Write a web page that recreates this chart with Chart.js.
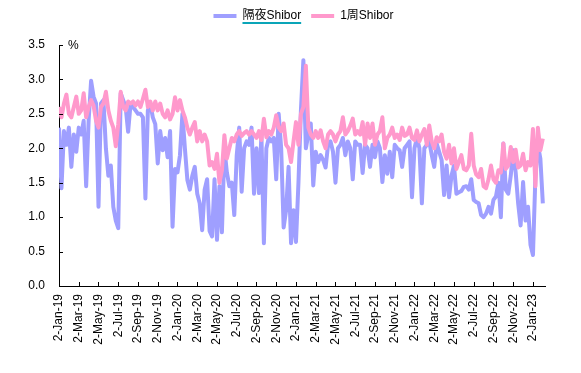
<!DOCTYPE html>
<html><head><meta charset="utf-8">
<script src="https://cdn.jsdelivr.net/npm/chart.js@4.4.1/dist/chart.umd.min.js"></script>
<style>html,body{margin:0;padding:0;background:#fff;}#wrap{width:581px;height:373px;}</style>
</head><body><div id="wrap"><canvas id="c" width="581" height="373"></canvas></div>
<script>
const seriesNames = ['隔夜Shibor', '1周Shibor'];
const tickLabels = ['2-Jan-19','2-Mar-19','2-May-19','2-Jul-19','2-Sep-19','2-Nov-19',
  '2-Jan-20','2-Mar-20','2-May-20','2-Jul-20','2-Sep-20','2-Nov-20',
  '2-Jan-21','2-Mar-21','2-May-21','2-Jul-21','2-Sep-21','2-Nov-21',
  '2-Jan-22','2-Mar-22','2-May-22','2-Jul-22','2-Sep-22','2-Nov-22','2-Jan-23'];
// tick positions in months since 2-Jan-19
const tickMonths = [0,2,4,6,8,10,12,14,16,18,20,22,24,26,28,30,32,34,36,38,40,42,44,46,48];
// samples are taken every quarter month starting 2-Jan-19
const sampleStepMonths = 0.25;
const overnight = [
  2.3,1.42,2.25,2.05,2.3,1.73,2.2,1.95,2.3,2.2,
  2.4,1.45,2.4,2.98,2.75,2.65,1.15,2.65,2.7,2.0,
  1.6,1.75,1.15,0.95,0.84,2.8,2.7,2.6,2.24,2.65,
  2.6,2.55,2.5,2.5,2.45,1.27,2.55,2.65,2.45,2.35,
  1.78,2.25,1.97,2.15,1.87,2.25,0.86,1.7,1.65,1.9,
  2.5,2.0,1.54,1.4,1.6,1.73,1.34,1.2,0.81,1.4,
  1.55,0.8,0.72,1.55,0.67,1.45,0.78,2.0,1.65,1.45,
  1.5,1.03,1.9,2.3,1.37,2.0,2.1,2.05,2.3,1.34,
  2.0,1.35,2.2,0.62,2.0,2.15,2.1,2.15,1.55,2.5,
  2.0,0.85,1.1,1.73,0.62,1.1,0.64,1.5,2.55,3.28,
  2.0,2.2,2.36,1.46,1.95,1.8,1.9,1.83,1.72,2.05,
  2.1,1.95,1.5,2.0,2.05,2.15,1.9,2.1,2.0,1.55,
  2.1,2.05,2.05,1.64,2.05,2.0,1.73,2.05,1.87,2.1,
  2.0,1.51,1.9,1.63,1.95,1.58,2.05,2.0,1.97,1.73,
  2.0,2.05,2.1,1.29,2.0,2.15,2.0,1.2,2.0,2.05,
  2.1,1.9,1.73,2.07,1.95,1.83,1.32,1.75,1.29,1.6,
  1.75,1.34,1.36,1.38,1.44,1.45,1.4,1.55,1.25,1.22,
  1.2,1.03,1.0,1.05,1.15,1.05,1.25,1.3,1.5,1.0,
  2.07,1.4,1.34,1.6,1.97,1.65,1.2,0.88,1.51,0.95,
  1.15,0.6,0.45,1.6,2.05,1.85,1.2
];
const oneWeek = [
  2.6,2.45,2.65,2.78,2.5,2.45,2.6,2.75,2.5,2.55,
  2.8,2.45,2.6,2.7,2.62,2.4,2.3,2.6,2.65,2.82,
  2.55,2.4,2.3,2.03,2.35,2.82,2.6,2.55,2.68,2.65,
  2.68,2.62,2.68,2.6,2.72,2.85,2.6,2.68,2.55,2.68,
  2.55,2.65,2.5,2.45,2.55,2.42,2.5,2.74,2.55,2.7,
  2.55,2.45,2.3,2.2,2.3,2.38,2.1,2.25,2.1,2.2,
  2.1,1.75,1.8,1.7,1.92,1.5,1.68,2.19,1.85,2.0,
  2.15,2.1,2.2,2.25,2.18,2.22,2.25,2.2,2.25,2.2,
  2.15,2.25,2.12,2.43,2.16,2.25,2.2,2.3,2.48,2.3,
  2.25,2.36,2.05,2.0,1.8,2.1,2.38,2.05,2.5,2.6,
  3.2,2.3,2.2,2.15,2.25,2.15,2.26,2.1,2.0,2.2,
  2.25,2.2,2.1,2.2,2.25,2.45,2.2,2.25,2.33,2.43,
  2.2,2.25,2.2,2.38,2.05,2.36,2.15,2.36,2.05,2.2,
  2.25,2.45,2.0,2.15,2.2,2.3,2.15,2.2,2.12,2.3,
  2.18,2.2,2.3,2.15,2.12,2.26,2.1,2.2,2.28,2.05,
  2.33,2.1,2.0,2.16,2.1,2.2,1.95,1.85,2.05,1.78,
  2.0,1.7,1.8,1.9,1.7,1.68,1.75,2.21,1.75,1.62,
  1.58,1.7,1.45,1.42,1.55,1.75,1.55,1.5,1.68,1.65,
  2.07,1.7,1.75,2.02,1.8,1.98,1.72,1.75,1.92,1.68,
  1.8,1.75,2.28,1.45,2.3,1.97,2.14
];
const yTicks = [0,0.5,1,1.5,2,2.5,3,3.5];

const toPoints = arr => arr.map((v, i) => ({x: i * sampleStepMonths, y: v}));
const FONT = "'Liberation Sans', Arial, 'Noto Sans CJK SC', sans-serif";
const LEGEND_FONT = 12, LEGEND_LINE = 23, LEGEND_PAD = 10;

const extras = {
  id: 'extras',
  afterUpdate(chart) {
    const lg = chart.legend;
    if (lg) { lg.left += 31; lg.right += 31; lg.adjustHitBoxes(); }
  },
  afterDraw(chart) {
    const ctx = chart.ctx, a = chart.chartArea, xs = chart.scales.x, ys = chart.scales.y;
    ctx.save();
    ctx.strokeStyle = '#000'; ctx.lineWidth = 1;
    ctx.beginPath();
    ys.ticks.forEach((t, i) => {
      const py = Math.round(ys.getPixelForTick(i)) + 0.5;
      ctx.moveTo(a.left, py); ctx.lineTo(a.left + 4, py);
    });
    xs.ticks.forEach((t, i) => {
      const px = Math.round(xs.getPixelForTick(i)) + 0.5;
      ctx.moveTo(px, a.bottom); ctx.lineTo(px, a.bottom - 4);
    });
    ctx.stroke();
    ctx.fillStyle = '#000';
    ctx.font = '12px ' + FONT;
    ctx.textBaseline = 'middle'; ctx.textAlign = 'left';
    ctx.fillText('%', a.left + 9, a.top + 1);
    // underline under first legend label
    const lg = chart.legend, hb = lg.legendHitBoxes[0];
    if (hb) {
      const tx = hb.left + LEGEND_LINE + LEGEND_FONT / 2;
      const uy = lg.top + LEGEND_PAD + LEGEND_FONT / 2 + 7;
      ctx.strokeStyle = '#0aa5b8'; ctx.lineWidth = 2;
      ctx.beginPath();
      ctx.moveTo(tx, uy); ctx.lineTo(hb.left + hb.width, uy);
      ctx.stroke();
    }
    ctx.restore();
  }
};
const legendSpace = {
  id: 'legendSpace',
  beforeInit(chart) {
    const orig = chart.legend.fit;
    chart.legend.fit = function() { orig.call(this); this.height = 45; };
  }
};

new Chart(document.getElementById('c'), {
  type: 'line',
  data: {
    datasets: [
      {label: seriesNames[0], data: toPoints(overnight), borderColor: '#9f9fff', backgroundColor: '#9f9fff',
       borderWidth: 4, pointRadius: 0, tension: 0, borderJoinStyle: 'round', order: 2},
      {label: seriesNames[1], data: toPoints(oneWeek), borderColor: '#ff99cc', backgroundColor: '#ff99cc',
       borderWidth: 4, pointRadius: 0, tension: 0, borderJoinStyle: 'round', order: 1}
    ]
  },
  options: {
    responsive: false, animation: false, devicePixelRatio: 1,
    layout: {padding: {left: 0, right: 36, top: 0, bottom: 0}},
    plugins: {
      tooltip: {enabled: false},
      legend: {
        position: 'top', align: 'center',
        labels: {
          font: {size: LEGEND_FONT, family: FONT}, color: '#000', usePointStyle: true, pointStyle: 'line',
          pointStyleWidth: LEGEND_LINE, padding: LEGEND_PAD,
          sort: (a, b) => a.datasetIndex - b.datasetIndex
        }
      }
    },
    scales: {
      x: {
        type: 'linear', min: 0, max: 49.22,
        afterBuildTicks: s => { s.ticks = tickMonths.map(v => ({value: v})); },
        afterFit: s => { s.height = 87; },
        grid: {display: false, drawTicks: false},
        border: {display: true, color: '#000', width: 1},
        ticks: {autoSkip: false, maxRotation: 90, minRotation: 90, padding: 8, color: '#000',
          font: {size: 12, family: FONT}, callback: (v, i) => tickLabels[i]}
      },
      y: {
        min: 0, max: 3.5,
        afterBuildTicks: s => { s.ticks = yTicks.map(v => ({value: v})); },
        afterFit: s => { s.width = 59; },
        grid: {display: false, drawTicks: false},
        border: {display: true, color: '#000', width: 1},
        ticks: {padding: 14, color: '#000', font: {size: 12, family: FONT}, callback: v => v.toFixed(1)}
      }
    }
  },
  plugins: [extras, legendSpace]
});
</script></body></html>
